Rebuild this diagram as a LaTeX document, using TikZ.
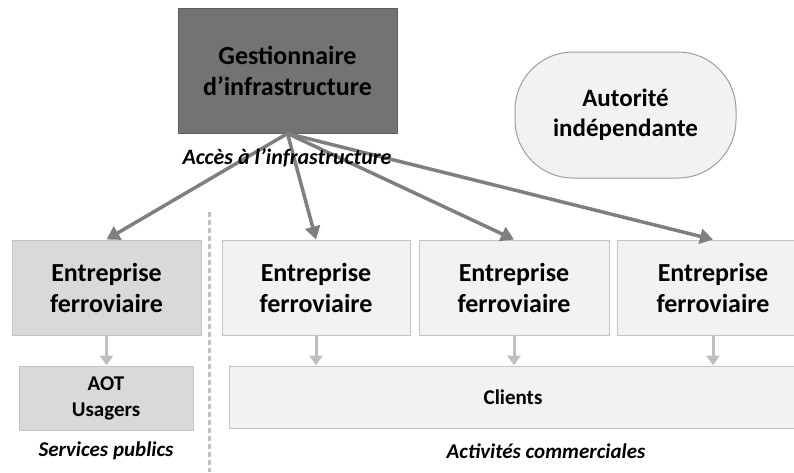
\documentclass[tikz,border=0pt]{standalone}
\usepackage{fontspec}
\setmainfont{Carlito}
\usetikzlibrary{arrows.meta}
\definecolor{gestfill}{HTML}{737373}
\definecolor{gestline}{HTML}{5E5E5E}
\definecolor{pubfill}{HTML}{D9D9D9}
\definecolor{comfill}{HTML}{F2F2F2}
\definecolor{boxline}{HTML}{C4C4C4}
\definecolor{accline}{HTML}{7F7F7F}
\definecolor{feedline}{HTML}{BFBFBF}
\tikzset{
  actor/.style = {draw=boxline, line width=1pt, inner sep=0pt, align=center,
    font=\bfseries\fontsize{26}{31}\selectfont},
  userbox/.style = {actor, font=\bfseries\fontsize{21}{26}\selectfont},
  caption/.style = {font=\bfseries\itshape\fontsize{21}{25}\selectfont},
  access/.style = {draw=accline, line width=3.5pt,
    -{Triangle[length=13pt, width=15pt]}},
  feed/.style = {draw=feedline, line width=3pt,
    -{Triangle[length=10pt, width=13pt]}}
}
\begin{document}
\begin{tikzpicture}[x=1pt, y=-1pt]
\useasboundingbox (0,0) rectangle (794,472);
\node[actor, fill=gestfill, draw=gestline, minimum width=219pt, minimum height=125pt] (gest) at (287.5,70.5) {Gestionnaire\\d’infrastructure};
\node[actor, fill=comfill, draw=boxline!80!black, rounded corners=58pt, minimum width=221pt, minimum height=126pt, font=\bfseries\fontsize{25}{30}\selectfont] (autorite) at (625.5,115) {Autorité\\indépendante};
\node[actor, fill=pubfill, minimum width=189pt, minimum height=95pt] (ef1) at (106.5,287.5) {Entreprise\\ferroviaire};
\node[actor, fill=comfill, minimum width=188pt, minimum height=95pt] (ef2) at (316,287.5) {Entreprise\\ferroviaire};
\node[actor, fill=comfill, minimum width=190pt, minimum height=95pt] (ef3) at (514,287.5) {Entreprise\\ferroviaire};
\node[actor, fill=comfill, minimum width=192pt, minimum height=95pt] (ef4) at (713,287.5) {Entreprise\\ferroviaire};
\node[userbox, fill=pubfill, minimum width=174pt, minimum height=64pt] (aot) at (106,398) {AOT\\Usagers};
\node[userbox, fill=comfill, minimum width=568pt, minimum height=62pt] (clients) at (513,397) {Clients};
\coordinate (septop) at (209,212);
\coordinate (sepbot) at (209,472);
\draw[feedline, line width=3pt, dash pattern=on 5pt off 3pt] (septop) -- (sepbot);
\draw[access] (gest.south) -- (ef1.north);
\draw[access] (gest.south) -- (ef2.north);
\draw[access] (gest.south) -- (ef3.north);
\draw[access] (gest.south) -- (ef4.north);
\draw[feed] (ef1.south) -- (ef1.south |- aot.north);
\draw[feed] (ef2.south) -- (ef2.south |- clients.north);
\draw[feed] (ef3.south) -- (ef3.south |- clients.north);
\draw[feed] (ef4.south) -- (ef4.south |- clients.north);
\node[caption, font=\bfseries\itshape\fontsize{22}{26}\selectfont] (acces) at (287,158) {Accès à l’infrastructure};
\node[caption] (services) at (106,451) {Services publics};
\node[caption] (commerce) at (546,451) {Activités commerciales};
\end{tikzpicture}
\end{document}
